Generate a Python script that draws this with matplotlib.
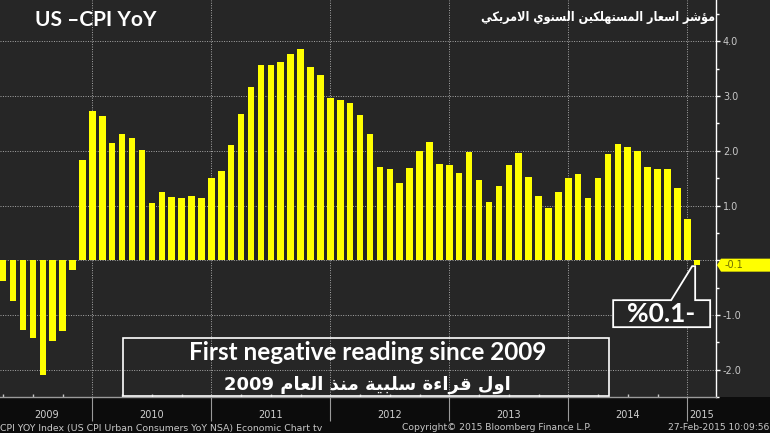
import numpy as np
import matplotlib
matplotlib.use('Agg')
import matplotlib.pyplot as plt
import matplotlib.transforms as mtransforms
from matplotlib.patches import Rectangle, Polygon

# US CPI YoY, monthly, from Mar 2009 to Jan 2015
years = ['2009', '2010', '2011', '2012', '2013', '2014', '2015']
cpi_2009 = [-0.38, -0.74, -1.28, -1.43, -2.10, -1.48, -1.29, -0.18, 1.84, 2.72]
cpi_2010 = [2.63, 2.14, 2.31, 2.24, 2.02, 1.05, 1.24, 1.15, 1.14, 1.17, 1.14, 1.50]
cpi_2011 = [1.63, 2.11, 2.68, 3.16, 3.57, 3.56, 3.63, 3.77, 3.87, 3.53, 3.39, 2.96]
cpi_2012 = [2.93, 2.87, 2.65, 2.30, 1.70, 1.66, 1.41, 1.69, 1.99, 2.16, 1.76, 1.74]
cpi_2013 = [1.59, 1.98, 1.47, 1.06, 1.36, 1.75, 1.96, 1.52, 1.18, 0.96, 1.24, 1.50]
cpi_2014 = [1.58, 1.13, 1.51, 1.95, 2.13, 2.07, 1.99, 1.70, 1.66, 1.66, 1.32, 0.76]
cpi_2015 = [-0.09]
first_month = 2  # Mar 2009, months counted from Jan 2009 = 0

title_en = 'US \u2013CPI YoY'
title_ar = 'مؤشر اسعار المستهلكين السنوي الامريكي'
note_en = 'First negative reading since 2009'
note_ar = 'اول قراءة سلبية منذ العام 2009'
callout = '%0.1-'
last_label = '-0.1'
footer_left = 'CPI YOY Index (US CPI Urban Consumers YoY NSA) Economic Chart tv'
footer_mid = 'Copyright\u00a9 2015 Bloomberg Finance L.P.'
footer_right = '27-Feb-2015 10:09:56'

BG = '#262626'
YELLOW = '#ffff00'

# small arabic shaper: (isolated, final, initial, medial)
AR_FORMS = {
    '\u0621': ('\ufe80', None, None, None),
    '\u0624': ('\ufe85', '\ufe86', None, None),
    '\u0627': ('\ufe8d', '\ufe8e', None, None),
    '\u0628': ('\ufe8f', '\ufe90', '\ufe91', '\ufe92'),
    '\u0629': ('\ufe93', '\ufe94', None, None),
    '\u062a': ('\ufe95', '\ufe96', '\ufe97', '\ufe98'),
    '\u0630': ('\ufeab', '\ufeac', None, None),
    '\u0631': ('\ufead', '\ufeae', None, None),
    '\u0633': ('\ufeb1', '\ufeb2', '\ufeb3', '\ufeb4'),
    '\u0634': ('\ufeb5', '\ufeb6', '\ufeb7', '\ufeb8'),
    '\u0639': ('\ufec9', '\ufeca', '\ufecb', '\ufecc'),
    '\u0642': ('\ufed5', '\ufed6', '\ufed7', '\ufed8'),
    '\u0643': ('\ufed9', '\ufeda', '\ufedb', '\ufedc'),
    '\u0644': ('\ufedd', '\ufede', '\ufedf', '\ufee0'),
    '\u0645': ('\ufee1', '\ufee2', '\ufee3', '\ufee4'),
    '\u0646': ('\ufee5', '\ufee6', '\ufee7', '\ufee8'),
    '\u0647': ('\ufee9', '\ufeea', '\ufeeb', '\ufeec'),
    '\u0648': ('\ufeed', '\ufeee', None, None),
    '\u064a': ('\ufef1', '\ufef2', '\ufef3', '\ufef4'),
    '\u0644\u0627': ('\ufefb', '\ufefc', None, None),
}


def shape_word(word):
    toks = []
    i = 0
    while i < len(word):
        if word[i:i + 2] == '\u0644\u0627':
            toks.append(word[i:i + 2])
            i += 2
        else:
            toks.append(word[i])
            i += 1
    out = []
    for k, t in enumerate(toks):
        forms = AR_FORMS.get(t)
        if forms is None:
            out.append(t)
            continue
        prev = AR_FORMS.get(toks[k - 1]) if k > 0 else None
        nxt = AR_FORMS.get(toks[k + 1]) if k + 1 < len(toks) else None
        join_prev = prev is not None and prev[2] is not None
        join_next = forms[2] is not None and nxt is not None and nxt[1] is not None
        if join_prev and join_next:
            out.append(forms[3])
        elif join_prev:
            out.append(forms[1])
        elif join_next:
            out.append(forms[2])
        else:
            out.append(forms[0])
    return ''.join(reversed(out))


def rtl(text):
    words = [w if w.isdigit() else shape_word(w) for w in text.split(' ')]
    return ' '.join(reversed(words))


values = cpi_2009 + cpi_2010 + cpi_2011 + cpi_2012 + cpi_2013 + cpi_2014 + cpi_2015
x = np.arange(first_month, first_month + len(values))

fig = plt.figure(figsize=(7.7, 4.33), dpi=100, facecolor='#0c0c0c')
fig.add_artist(Rectangle((0, 36 / 433), 1, 397 / 433, transform=fig.transFigure,
                         facecolor=BG, edgecolor='none', zorder=0))
ax = fig.add_axes([0, 36 / 433, 716 / 770, 397 / 433])
ax.set_facecolor(BG)
ax.set_xlim(1.68, 73.9)
ax.set_ylim(-2.396, 4.757)

ax.bar(x, values, width=0.66, color=YELLOW, zorder=3)

# axes and grid
for s in ['left', 'top']:
    ax.spines[s].set_visible(False)
ax.spines['right'].set_color('white')
ax.spines['right'].set_linewidth(1.0)
ax.spines['bottom'].set_color('#9a9a9a')
ax.spines['bottom'].set_linewidth(1.0)

ax.yaxis.tick_right()
ax.set_yticks(np.arange(-2, 5))
# 0.0 sits under the value tag
ax.set_yticklabels(['' if v == 0 else '%.1f' % v for v in np.arange(-2, 5)])
ax.set_yticks(np.arange(-2.5, 4.6, 0.5), minor=True)
ax.tick_params(axis='y', which='major', colors='white', labelcolor='#c8c8c8',
               length=3, width=1, labelsize=7, pad=2)
ax.tick_params(axis='y', which='minor', colors='white', length=1.8, width=1)

year_ends = np.arange(11, 72, 12)
ax.set_xticks(year_ends)
ax.set_xticklabels([])
ax.set_xticks(np.arange(2, 74, 3), minor=True)
ax.tick_params(axis='x', which='major', direction='out', length=17, width=0.8, color='#9a9a9a')
ax.tick_params(axis='x', which='minor', direction='in', length=2, width=1, color='#c8c8c8')

ax.grid(True, which='major', color='#a8a8a8', linestyle=(0, (1, 1.5)), linewidth=0.7, zorder=1)
ax.set_axisbelow(True)

# year labels centred on the visible part of each year
x0, x1 = ax.get_xlim()
for k, yr in enumerate(years):
    lo = max(x0, -1 + 12 * k)
    hi = min(x1, 11 + 12 * k)
    ax.text((lo + hi) / 2, -0.045, yr, transform=ax.get_xaxis_transform(),
            ha='center', va='center', fontsize=7, color='#d0d0d0', family='DejaVu Sans')

# footer
fig.text(0.0, 1 - 428 / 433, footer_left, fontsize=6.75, color='#c8c8c8', va='center', ha='left')
fig.text(497 / 770, 1 - 428 / 433, footer_mid, fontsize=6.6, color='#c8c8c8', va='center', ha='center')
fig.text(769 / 770, 1 - 428 / 433, footer_right, fontsize=6.6, color='#c8c8c8', va='center', ha='right')

# titles
fig.text(35 / 770, 1 - 20 / 433, title_en, fontsize=15, fontweight='bold', family='Lato',
         color='white', va='center', ha='left')
fig.text(715 / 770, 1 - 18 / 433, rtl(title_ar), fontsize=9, fontweight='bold',
         fontstretch='condensed', family='DejaVu Sans', color='white', va='center', ha='right')

# note box
ax.add_patch(Rectangle((123 / 716, 1 / 397), (609 - 123) / 716, (396 - 338) / 397,
                       transform=ax.transAxes, fill=False, edgecolor='white', linewidth=1.2, zorder=5))
ax.text(0.513, (397 - 353) / 397, note_en, transform=ax.transAxes, ha='center', va='center',
        fontsize=17.5, fontweight='bold', family='Lato', color='white', zorder=6)
ax.text(0.513, (397 - 385) / 397, rtl(note_ar), transform=ax.transAxes, ha='center', va='center',
        fontsize=13, fontweight='bold', family='DejaVu Sans', color='white', zorder=6)

# callout pointing at the last bar (offsets in pixels from the bar, y downwards)
px, py = ax.transData.transform((x[-1], values[-1]))
down = mtransforms.Affine2D().scale(1, -1).translate(px, py)
shape = [(-84, 35), (-26, 35), (-5, 1), (-2, 1), (-2, 35), (13, 35), (13, 62), (-84, 62)]
fig.add_artist(Polygon(shape, closed=True, transform=down, facecolor=BG, edgecolor='white',
                       linewidth=1.3, zorder=7))
fig.text(px - 36, py - 49, callout, transform=None, ha='center', va='center', fontsize=19,
         fontweight='bold', family='Lato', color='white', zorder=8)

# value tag on the right axis
tx, ty = mtransforms.blended_transform_factory(ax.transAxes, ax.transData).transform((1, values[-1]))
tag = mtransforms.Affine2D().scale(1, -1).translate(tx, ty)
fig.add_artist(Polygon([(1, 0), (5, -6.5), (60, -6.5), (60, 6.5), (5, 6.5)], closed=True,
                       transform=tag, facecolor=YELLOW, edgecolor='none', zorder=7))
fig.text(tx + 9, ty, last_label, transform=None, ha='left', va='center', fontsize=7,
         color='#6e6e00', zorder=8)

fig.savefig('out.png', dpi=100, facecolor=fig.get_facecolor())
